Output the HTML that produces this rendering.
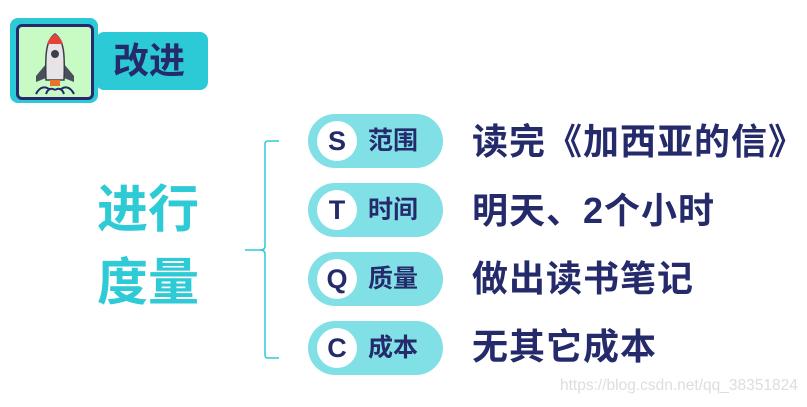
<!DOCTYPE html>
<html><head><meta charset="utf-8"><style>
body{margin:0;width:807px;height:407px;background:#fff;position:relative;overflow:hidden;font-family:"Liberation Sans","Noto Sans CJK SC",sans-serif}
.a{position:absolute;white-space:nowrap}
.pill{position:absolute;left:308px;width:135px;height:54px;border-radius:27px;background:#80e0e6}
.circ{position:absolute;left:9px;top:7px;width:40px;height:40px;border-radius:50%;background:#fff;color:#252a6b;font-weight:bold;font-size:27px;text-align:center;line-height:40px}
.pl{position:absolute;left:60px;top:0;line-height:54px;font-size:25px;font-weight:bold;color:#252a6b}
.rt{position:absolute;left:472px;font-size:36px;font-weight:bold;color:#252a6b;line-height:44px;letter-spacing:1px}
.big{position:absolute;left:97px;font-size:51px;font-weight:bold;color:#2ecad6;line-height:60px}
</style></head><body>
<div class="a" style="left:96px;top:32px;width:112px;height:58px;background:#2ccad6;border-radius:8px"></div>
<div class="a" style="left:113px;top:32px;line-height:58px;font-size:36px;font-weight:bold;color:#252a6b">改进</div>
<div class="a" style="left:10px;top:18px;width:88px;height:85px;background:#2ccad6;border-radius:8px"></div>
<div class="a" style="left:16px;top:24px;width:72px;height:70px;background:#c8fac4;border:3px solid #252a6b;border-radius:6px"></div>
<svg class="a" style="left:16px;top:24px" width="78" height="76" viewBox="0 0 78 76">
<path d="M30 40 L20 52 L20 58 L30 54Z" fill="#4a4f5c"/><path d="M48 40 L58 52 L58 58 L48 54Z" fill="#4a4f5c"/>
<path d="M39 10 C30 16 29 30 30 56 L48 56 C49 30 48 16 39 10Z" fill="#e8e4e6" stroke="#3a3f4c" stroke-width="1.5"/>
<path d="M39 10 C34 13 32 17 31 20 L47 20 C46 17 44 13 39 10Z" fill="#e2443a"/>
<circle cx="39" cy="30" r="4" fill="#3a3f4c"/>
<rect x="34" y="56" width="10" height="6" fill="#e8742a"/>
<path d="M20 70 C24 62 30 62 34 66 M58 70 C54 62 48 62 44 66 M30 70 C32 64 36 64 39 66 M48 70 C46 64 42 64 39 66" stroke="#252a6b" stroke-width="2" fill="none"/>
</svg>
<div class="big" style="top:180px">进行</div>
<div class="big" style="top:253px">度量</div>
<svg class="a" style="left:0;top:0" width="807" height="407"><path d="M279 141 H268 Q265 141 265 144 V246 Q265 250 260 250 H245 M260 250 Q265 250 265 254 V355 Q265 358 268 358 H279" stroke="#2ecad6" stroke-width="1.5" fill="none"/></svg>
<div class="pill" style="top:114px"><div class="circ">S</div><div class="pl">范围</div></div>
<div class="pill" style="top:183px"><div class="circ">T</div><div class="pl">时间</div></div>
<div class="pill" style="top:252px"><div class="circ">Q</div><div class="pl">质量</div></div>
<div class="pill" style="top:321px"><div class="circ">C</div><div class="pl">成本</div></div>
<div class="rt" style="top:120px">读完《加西亚的信》</div>
<div class="rt" style="top:189px">明天、2个小时</div>
<div class="rt" style="top:257px">做出读书笔记</div>
<div class="rt" style="top:325px">无其它成本</div>
<div class="a" style="left:560px;top:377px;font-size:15.5px;color:#ddd">https://blog.csdn.net/qq_38351824</div>
</body></html>
